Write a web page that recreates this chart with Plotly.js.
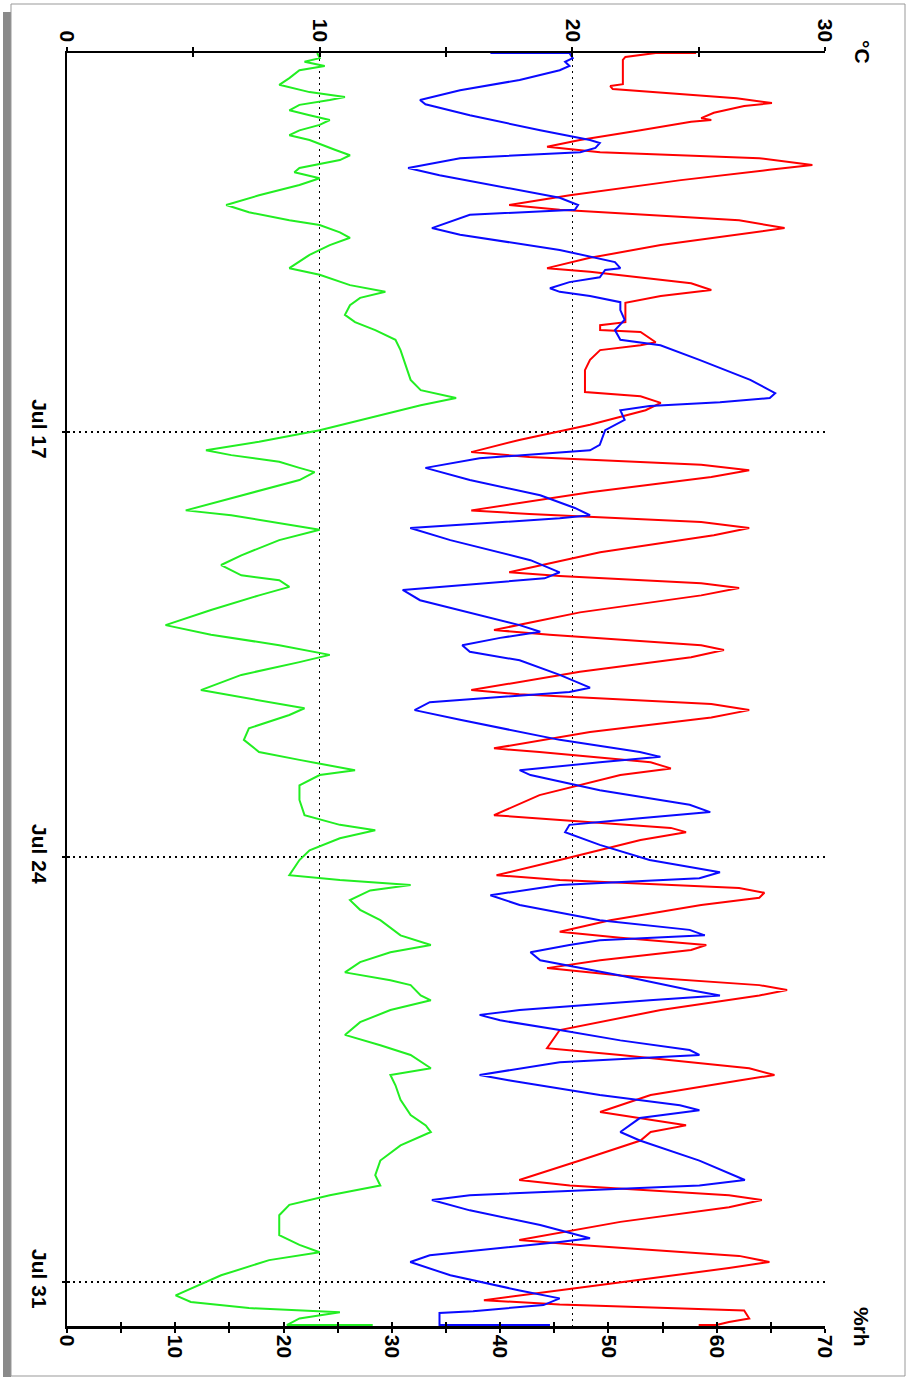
<!DOCTYPE html>
<html><head><meta charset="utf-8">
<script src="https://cdn.plot.ly/plotly-3.0.1.min.js"></script>
<style>html,body{margin:0;padding:0;background:#fff;}#chart{width:909px;height:1378px;}</style>
</head><body><div id="chart"></div>
<script>
// time in decimal day of July
const redDay = [10.756,10.756,10.82,10.87,11.27,11.30,11.35,11.50,11.58,11.63,11.74,11.83,11.86,11.89,12.03,12.19,12.30,12.39,12.49,12.60,12.68,12.85,13.10,13.26,13.34,13.51,13.64,13.74,13.92,14.13,14.30,14.36,14.55,14.66,14.76,14.87,15.19,15.24,15.32,15.35,15.52,15.57,15.65,15.81,15.98,16.34,16.41,16.52,16.64,16.88,17.13,17.33,17.41,17.54,17.63,17.74,17.99,18.29,18.35,18.48,18.58,18.70,18.98,19.31,19.37,19.49,19.57,19.69,19.97,20.26,20.34,20.51,20.59,20.71,20.95,21.25,21.32,21.48,21.58,21.70,21.94,22.21,22.27,22.44,22.54,22.65,22.98,23.31,23.39,23.52,23.59,23.72,24.05,24.30,24.38,24.51,24.59,24.67,24.79,25.04,25.23,25.33,25.45,25.53,25.70,25.83,25.95,26.11,26.19,26.28,26.52,26.85,27.15,27.26,27.48,27.59,27.68,27.92,28.20,28.30,28.42,28.53,28.67,29.00,29.32,29.41,29.57,29.65,29.77,30.01,30.31,30.39,30.57,30.67,30.77,31.05,31.30,31.37,31.47,31.60,31.66,31.71,31.71];
const redTemp = [24.9,23.3,22.1,22.0,22.0,21.5,21.6,26.5,27.9,26.8,25.6,25.1,25.5,24.7,22.7,20.3,19.0,21.1,27.4,29.5,27.8,24.3,19.9,17.5,19.5,26.6,28.4,26.6,23.5,20.7,19.0,20.7,24.7,25.5,23.5,22.1,22.1,21.1,21.1,22.7,23.3,22.7,21.1,20.7,20.5,20.5,22.7,23.5,22.9,20.7,17.9,16.0,18.3,25.1,27.0,25.5,20.7,16.0,18.3,25.1,27.0,25.6,21.1,17.5,19.5,25.1,26.6,25.1,20.3,16.9,19.1,25.1,26.0,24.7,20.3,16.0,17.9,25.5,27.0,25.5,20.7,16.9,18.7,23.1,23.9,21.9,18.7,16.9,19.5,23.9,24.5,22.7,19.5,17.0,19.5,26.6,27.6,27.4,25.1,21.5,19.5,21.9,25.3,24.7,21.1,19.0,21.9,27.4,28.5,27.4,23.5,19.5,19.0,21.9,27.0,28.0,26.6,23.1,21.1,22.7,24.5,23.1,22.7,20.3,17.9,19.9,26.2,27.5,26.2,21.9,17.9,20.3,26.6,27.8,26.2,21.1,16.5,19.5,26.8,27.0,26.2,25.7,25.0];

const blueDay = [10.756,10.756,10.84,10.90,10.97,11.04,11.20,11.37,11.53,11.60,11.78,12.03,12.19,12.24,12.32,12.39,12.49,12.65,12.77,13.01,13.14,13.26,13.34,13.42,13.64,13.75,14.00,14.20,14.30,14.33,14.45,14.53,14.63,14.69,14.76,14.86,14.99,15.15,15.32,15.48,15.57,15.81,16.14,16.36,16.44,16.51,16.57,16.64,16.80,16.97,17.21,17.30,17.43,17.59,17.79,18.04,18.25,18.37,18.42,18.58,18.78,19.11,19.31,19.41,19.60,19.77,20.01,20.18,20.29,20.39,20.51,20.62,20.76,21.00,21.21,21.28,21.45,21.58,21.74,22.07,22.27,22.35,22.44,22.57,22.65,22.90,23.14,23.26,23.36,23.47,23.59,23.80,24.05,24.25,24.35,24.46,24.63,24.79,25.04,25.20,25.29,25.37,25.45,25.57,25.70,25.95,26.19,26.28,26.36,26.52,26.60,26.69,26.85,27.02,27.18,27.26,27.38,27.59,27.68,27.92,28.09,28.17,28.30,28.42,28.53,28.67,29.00,29.32,29.41,29.57,29.65,29.82,30.06,30.28,30.34,30.56,30.67,30.89,31.14,31.27,31.38,31.48,31.51,31.71,31.71];
const blueRH = [39.1,46.4,46.7,46.0,46.4,45.5,41.8,36.3,32.6,33.1,37.2,43.7,48.3,49.2,48.8,47.4,36.3,31.5,34.4,41.8,45.5,47.2,46.9,37.2,33.7,36.3,45.5,50.6,51.1,49.7,49.2,46.4,44.6,45.5,48.3,51.1,51.1,51.5,50.6,51.1,54.8,58.4,63.1,65.4,64.9,60.3,53.8,51.1,51.5,49.7,49.2,48.3,38.1,33.1,37.2,43.7,46.9,48.3,45.5,31.7,35.4,42.8,45.5,44.1,31.0,32.6,38.1,41.8,43.7,40.0,36.5,37.2,41.8,45.5,48.3,46.4,33.5,32.1,36.3,45.5,52.9,54.8,49.2,41.8,42.8,49.2,57.5,59.4,52.9,46.4,46.0,49.2,53.8,60.3,58.4,45.5,39.1,41.8,49.2,57.5,58.9,49.2,46.4,42.8,43.7,51.1,57.5,60.3,53.8,41.8,38.1,40.0,45.5,51.1,57.5,58.4,45.5,38.1,40.9,49.2,56.6,58.4,52.9,52.0,51.1,52.9,58.4,62.6,58.4,37.2,33.7,37.2,43.7,48.3,45.5,33.5,31.7,35.4,41.8,45.5,44.0,37.5,34.4,34.4,44.6];

const greenDay = [10.756,10.84,10.90,10.97,11.04,11.17,11.28,11.40,11.48,11.53,11.61,11.70,11.78,11.86,11.94,12.03,12.11,12.19,12.35,12.44,12.52,12.65,12.72,12.82,12.93,13.10,13.26,13.38,13.51,13.59,13.71,13.80,13.92,14.08,14.30,14.41,14.58,14.69,14.79,14.91,15.07,15.19,15.32,15.48,15.65,15.90,16.14,16.31,16.44,16.56,16.72,16.97,17.16,17.30,17.38,17.49,17.59,17.66,17.79,18.04,18.29,18.37,18.53,18.61,18.78,19.03,19.19,19.36,19.44,19.55,19.69,19.93,20.18,20.34,20.51,20.67,20.79,21.00,21.25,21.37,21.55,21.66,21.88,22.07,22.27,22.40,22.57,22.65,22.82,23.06,23.31,23.47,23.56,23.69,23.89,24.05,24.30,24.38,24.46,24.55,24.71,24.87,25.04,25.29,25.45,25.57,25.73,25.90,26.03,26.11,26.28,26.36,26.52,26.72,26.93,27.10,27.26,27.48,27.59,27.76,28.00,28.25,28.42,28.53,28.75,29.00,29.24,29.41,29.57,29.73,29.90,30.23,30.39,30.51,30.64,30.89,31.22,31.33,31.43,31.50,31.60,31.71,31.71];
const greenTemp = [9.9,10.0,9.4,10.2,9.2,8.8,8.4,9.6,11.0,10.4,9.2,8.8,9.6,10.4,10.0,9.2,8.8,9.6,10.6,11.2,10.8,9.2,9.0,10.0,9.2,7.6,6.3,7.2,8.8,10.0,10.8,11.2,10.4,9.6,8.8,10.0,11.2,12.6,11.6,11.2,11.0,11.4,12.2,13.0,13.2,13.4,13.6,14.0,15.4,14.0,12.4,10.0,7.6,5.5,6.5,8.4,9.2,9.8,9.2,6.9,4.7,6.5,8.8,10.0,8.4,6.9,6.1,6.9,8.4,8.8,7.6,5.7,3.9,5.7,8.4,10.4,9.2,6.9,5.3,6.9,9.4,8.8,7.2,7.0,7.6,9.2,11.4,10.0,9.2,9.2,9.4,10.8,12.2,10.8,9.6,9.2,8.8,10.8,13.6,12.0,11.2,11.6,12.4,13.2,14.4,12.8,11.6,11.0,12.8,13.6,14.0,14.4,12.8,11.6,11.0,12.4,13.6,14.4,12.8,13.0,13.2,13.6,14.2,14.4,13.2,12.4,12.2,12.4,10.4,8.8,8.4,8.4,9.2,10.0,8.0,6.1,4.3,4.9,7.2,10.8,9.2,8.7,12.1];

const dateTicks = [17, 24, 31];
const dateLabels = ['Jul 17', 'Jul 24', 'Jul 31'];

// plot frame in page pixels
const L = 67, R = 825, T = 53, B = 1326;
const px = x => (x - L) / (R - L);
const py = y => (B - y) / (B - T);

const lineW = 2;
const data = [
  {x: greenTemp, y: greenDay, xaxis: 'x', yaxis: 'y', mode: 'lines', line: {color: '#22ee22', width: lineW}, hoverinfo: 'skip'},
  {x: blueRH, y: blueDay, xaxis: 'x2', yaxis: 'y', mode: 'lines', line: {color: '#0a0aff', width: lineW}, hoverinfo: 'skip'},
  {x: redTemp, y: redDay, xaxis: 'x', yaxis: 'y', mode: 'lines', line: {color: '#ff0000', width: lineW}, hoverinfo: 'skip'},
  {x: [], y: [], xaxis: 'x3', yaxis: 'y2', mode: 'lines', hoverinfo: 'skip'},
  {x: [], y: [], xaxis: 'x4', yaxis: 'y2', mode: 'lines', hoverinfo: 'skip'}
];

const tickFont = {family: 'Liberation Sans, Arial, sans-serif', size: 21, color: '#000', weight: 'bold'};
const axCommon = {tickcolor: '#000', tickwidth: 2, linecolor: '#000', zeroline: false, automargin: false, fixedrange: true, tickfont: tickFont};
const grid = {gridcolor: '#000', gridwidth: 1.5, griddash: '2px,4px'};
const yRange = [31.725, 10.756];

const layout = {
  width: 909, height: 1378,
  margin: {l: L, r: 909 - R, t: T, b: 1378 - B, pad: 0},
  paper_bgcolor: '#fff', plot_bgcolor: '#fff',
  showlegend: false,
  font: {family: 'Liberation Sans, Arial, sans-serif', size: 21, color: '#000'},
  xaxis: Object.assign({}, axCommon, grid, {
    range: [0, 30], side: 'top', anchor: 'y', tickmode: 'linear', tick0: 0, dtick: 10,
    tickangle: 90, ticks: 'outside', ticklen: 4, showline: true, linewidth: 2.5,
    showgrid: true, layer: 'below traces', ticklabelstandoff: -3,
    minor: {tick0: 0, dtick: 5, ticks: 'outside', ticklen: 4, tickwidth: 2, tickcolor: '#000', showgrid: false}
  }),
  xaxis2: Object.assign({}, axCommon, {
    range: [0, 70], side: 'bottom', anchor: 'y', overlaying: 'x', tickmode: 'linear', tick0: 0, dtick: 10,
    tickangle: 90, ticks: 'outside', ticklen: 4, showline: true, linewidth: 2.5, showgrid: false,
    layer: 'below traces', ticklabelstandoff: -2,
    minor: {tick0: 0, dtick: 5, ticks: 'outside', ticklen: 4, tickwidth: 2, tickcolor: '#000', showgrid: false}
  }),
  xaxis3: Object.assign({}, axCommon, {
    range: [0, 30], side: 'top', anchor: 'y2', overlaying: 'x', tickmode: 'linear', tick0: 0, dtick: 5,
    ticks: 'inside', ticklen: 4, showticklabels: false, showline: false, showgrid: false
  }),
  xaxis4: Object.assign({}, axCommon, {
    range: [0, 70], side: 'bottom', anchor: 'y2', overlaying: 'x', tickmode: 'linear', tick0: 0, dtick: 5,
    ticks: 'inside', ticklen: 4, showticklabels: false, showline: false, showgrid: false
  }),
  yaxis: Object.assign({}, axCommon, grid, {
    range: yRange, tickmode: 'array', tickvals: dateTicks, ticktext: dateLabels,
    tickangle: 90, ticks: 'outside', ticklen: 3, showline: true, linewidth: 2.5, showgrid: true,
    side: 'left', anchor: 'x', layer: 'below traces', ticklabelstandoff: 4
  }),
  yaxis2: Object.assign({}, axCommon, {
    range: yRange, overlaying: 'y', side: 'left', anchor: 'x3', tickmode: 'array', tickvals: dateTicks,
    ticks: 'inside', ticklen: 3, showticklabels: false, showline: false, showgrid: false
  }),
  annotations: [
    {text: '°C', xref: 'paper', yref: 'paper', x: px(862), y: py(52), xanchor: 'center', yanchor: 'middle', showarrow: false, textangle: 90, font: tickFont},
    {text: '%rh', xref: 'paper', yref: 'paper', x: px(862), y: py(1327), xanchor: 'center', yanchor: 'middle', showarrow: false, textangle: 90, font: tickFont}
  ],
  shapes: [
    {type: 'rect', xref: 'paper', yref: 'paper', x0: px(3), x1: px(11), y0: py(12), y1: py(1377), fillcolor: '#8a8a8a', line: {width: 0}, layer: 'below'},
    {type: 'rect', xref: 'paper', yref: 'paper', x0: px(11), x1: px(905), y0: py(4), y1: py(1376), line: {color: '#999', width: 1}, layer: 'below'}
  ]
};

Plotly.newPlot('chart', data, layout, {staticPlot: true, displayModeBar: false});
</script>
</body></html>
